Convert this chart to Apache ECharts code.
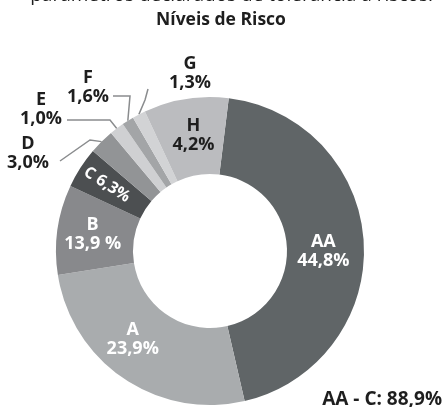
<!DOCTYPE html>
<html><head><meta charset="utf-8">
<script src="https://cdn.jsdelivr.net/npm/echarts@6/dist/echarts.min.js"></script>
<style>html,body{margin:0;padding:0;background:#fff}#c{width:442px;height:407px}</style>
</head><body><div id="c"></div>
<script>
// Categories (risk levels), clockwise from the top
const categories = ['AA', 'A', 'B', 'C', 'D', 'E', 'F', 'G', 'H'];
// Printed percentage labels
const printedLabels = ['44,8%', '23,9%', '13,9 %', '6,3%', '3,0%', '1,0%', '1,6%', '1,3%', '4,2%'];
// Arc sizes as drawn in the picture (degrees of the ring)
const arcShares = [160, 94, 34, 15.5, 9.5, 5.5, 4.5, 5, 32];
const colors = ['#606567', '#a9acae', '#88898c', '#4c4f51', '#929496', '#cfd0d2', '#a3a5a7', '#d2d3d5', '#bbbcbf'];
const titleText = 'Níveis de Risco';
const summaryText = 'AA - C: 88,9%';
const topText = 'parâmetros declarados de tolerância a riscos.';

const FONT = '"Open Sans", sans-serif';
const insideWhite = ['AA', 'A', 'B'];
const outside = ['D', 'E', 'F', 'G'];

// label placement for outside labels (layout only)
const outLayout = {
  D: { x: 28, y: 153, pts: [[90, 140], [60, 161]] },
  E: { x: 41, y: 109, pts: [[110, 120], [67, 120]] },
  F: { x: 88, y: 87, pts: [[130, 96], [113, 96]] },
  G: { x: 190, y: 73, pts: [[145, 100], [148, 89]] }
};
// small nudges for inside labels (layout only)
const insideNudge = { AA: [-5, 7], A: [-11, -10], C: [-4, 0], H: [2, 1] };

const data = categories.map((name, i) => {
  const item = { name: name, value: arcShares[i], itemStyle: { color: colors[i] } };
  if (outside.includes(name)) {
    item.label = { position: 'outside', color: '#1e1e1e' };
    item.labelLine = { show: true };
  } else if (name === 'C') {
    item.label = { position: 'inside', rotate: 'radial', color: '#ffffff', fontSize: 16,
      formatter: () => name + ' ' + printedLabels[i] };
    item.labelLine = { show: false };
  } else {
    item.label = { position: 'inside', color: insideWhite.includes(name) ? '#ffffff' : '#1e1e1e' };
    item.labelLine = { show: false };
  }
  return item;
});

const chart = echarts.init(document.getElementById('c'), null, { renderer: 'canvas' });
chart.setOption({
  animation: false,
  graphic: [
    { type: 'text', right: 9, top: -14, style: { text: topText, font: '19px ' + FONT, fill: '#1e1e1e' } },
    { type: 'text', left: 'center', top: 11, style: { text: titleText, font: 'bold 17.5px ' + FONT, fill: '#1e1e1e' } },
    { type: 'text', right: 0, top: 390, style: { text: summaryText, font: 'bold 19px ' + FONT, fill: '#1e1e1e' } }
  ],
  series: [{
    type: 'pie',
    center: [210, 251],
    radius: [77, 154],
    startAngle: 83,
    clockwise: true,
    avoidLabelOverlap: false,
    itemStyle: { borderWidth: 0 },
    label: {
      show: true,
      fontFamily: FONT,
      fontWeight: 'bold',
      fontSize: 18,
      lineHeight: 19,
      align: 'center',
      formatter: (p) => p.name + '\n' + printedLabels[p.dataIndex]
    },
    labelLine: { lineStyle: { color: '#8a8c8e', width: 1.5 }, smooth: false },
    labelLayout: (params) => {
      const name = categories[params.dataIndex];
      const l = outLayout[name];
      if (!l) {
        const n = insideNudge[name];
        return n ? { dx: n[0], dy: n[1] } : {};
      }
      const p0 = params.labelLinePoints ? params.labelLinePoints[0] : l.pts[0];
      return {
        x: l.x, y: l.y, align: 'center', verticalAlign: 'middle',
        labelLinePoints: [p0, l.pts[0], l.pts[1]]
      };
    },
    data: data
  }]
});
</script></body></html>
